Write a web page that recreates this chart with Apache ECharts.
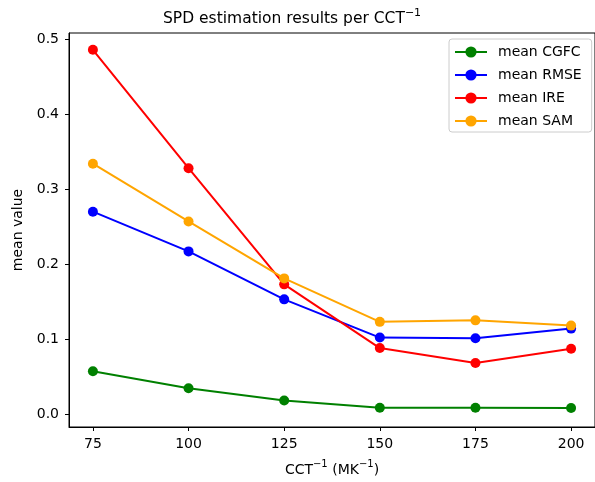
<!DOCTYPE html>
<html>
<head>
<meta charset="utf-8">
<script src="https://cdn.jsdelivr.net/npm/echarts@6/dist/echarts.min.js"></script>
<style>
  html, body { margin: 0; padding: 0; background: #fff; }
  #main { width: 595px; height: 482px; }
</style>
</head>
<body>
<div id="main"></div>
<script>
// values
var cct = [75, 100, 125, 150, 175, 200];
var meanCGFC = [0.057, 0.0345, 0.018, 0.0085, 0.0085, 0.008];
var meanRMSE = [0.270, 0.217, 0.153, 0.102, 0.101, 0.114];
var meanIRE = [0.486, 0.328, 0.173, 0.088, 0.068, 0.087];
var meanSAM = [0.334, 0.257, 0.181, 0.123, 0.125, 0.118];
var xTicks = [75, 100, 125, 150, 175, 200];
var yTicks = [0, 0.1, 0.2, 0.3, 0.4, 0.5];

var FONT = 'DejaVu Sans';

function pairs(ys) {
    var out = [];
    for (var i = 0; i < cct.length; i++) {
        out.push([cct[i], ys[i]]);
    }
    return out;
}

function lineSeries(name, color, ys) {
    return {
        name: name,
        type: 'line',
        data: pairs(ys),
        symbol: 'circle',
        symbolSize: 10,
        showSymbol: true,
        lineStyle: { color: color, width: 2 },
        itemStyle: { color: color },
        emphasis: { disabled: true },
        animation: false
    };
}

// superscript via rich text: small token aligned to the top of a tall line
var supRich = {
    a: { fontFamily: FONT, fontSize: 14, color: '#000', lineHeight: 22 },
    s: { fontFamily: FONT, fontSize: 10, color: '#000', verticalAlign: 'top', lineHeight: 9 }
};

var dom = document.getElementById('main');
var myChart = echarts.init(dom);
var option = {
    backgroundColor: '#fff',
    title: {
        text: '{t|SPD estimation results per CCT}{s|−1}',
        left: 163,
        top: 8,
        padding: 0,
        textStyle: {
            fontWeight: 'normal',
            rich: {
                t: { fontFamily: FONT, fontSize: 15.5, fontWeight: 'normal', color: '#000', lineHeight: 22 },
                s: { fontFamily: FONT, fontSize: 11, fontWeight: 'normal', color: '#000', verticalAlign: 'top', lineHeight: 9 }
            }
        }
    },
    legend: {
        orient: 'vertical',
        left: 449,
        top: 39,
        padding: [6, 10, 4, 5],
        itemGap: 9,
        itemWidth: 32,
        itemHeight: 14,
        backgroundColor: 'rgba(255,255,255,0.8)',
        borderColor: '#cccccc',
        borderWidth: 1,
        borderRadius: 3,
        textStyle: { fontFamily: FONT, fontSize: 14, color: '#000', padding: [0, 0, 0, 6] },
        data: ['mean CGFC', 'mean RMSE', 'mean IRE', 'mean SAM']
    },
    grid: {
        left: 69,
        top: 33,
        right: -5,
        bottom: 54,
        show: true,
        borderColor: '#000',
        borderWidth: 1,
        backgroundColor: '#fff'
    },
    xAxis: {
        type: 'value',
        min: 68.75,
        max: 206.25,
        name: '{a|CCT}{s|−1}{a| (MK}{s|−1}{a|)}',
        nameLocation: 'middle',
        nameGap: 32,
        nameTextStyle: { rich: supRich },
        splitLine: { show: false },
        axisLine: { show: true, onZero: false, lineStyle: { color: '#000', width: 1 } },
        axisTick: { show: true, length: 4, customValues: xTicks, lineStyle: { color: '#000' } },
        axisLabel: {
            customValues: xTicks,
            fontFamily: FONT,
            fontSize: 14,
            color: '#000',
            margin: 10
        }
    },
    yAxis: {
        type: 'value',
        min: -0.0173,
        max: 0.5084,
        name: 'mean value',
        nameLocation: 'middle',
        nameGap: 41,
        nameTextStyle: { fontFamily: FONT, fontSize: 14, color: '#000' },
        splitLine: { show: false },
        axisLine: { show: true, onZero: false, lineStyle: { color: '#000', width: 1 } },
        axisTick: { show: true, length: 4, customValues: yTicks, lineStyle: { color: '#000' } },
        axisLabel: {
            customValues: yTicks,
            fontFamily: FONT,
            fontSize: 14,
            color: '#000',
            margin: 10,
            formatter: function (v) { return v.toFixed(1); }
        }
    },
    series: [
        lineSeries('mean CGFC', '#008000', meanCGFC),
        lineSeries('mean RMSE', '#0000ff', meanRMSE),
        lineSeries('mean IRE', '#ff0000', meanIRE),
        lineSeries('mean SAM', '#ffa500', meanSAM)
    ]
};

if (option && typeof option === "object") {
    myChart.setOption(option, true);
}
</script>
</body>
</html>
